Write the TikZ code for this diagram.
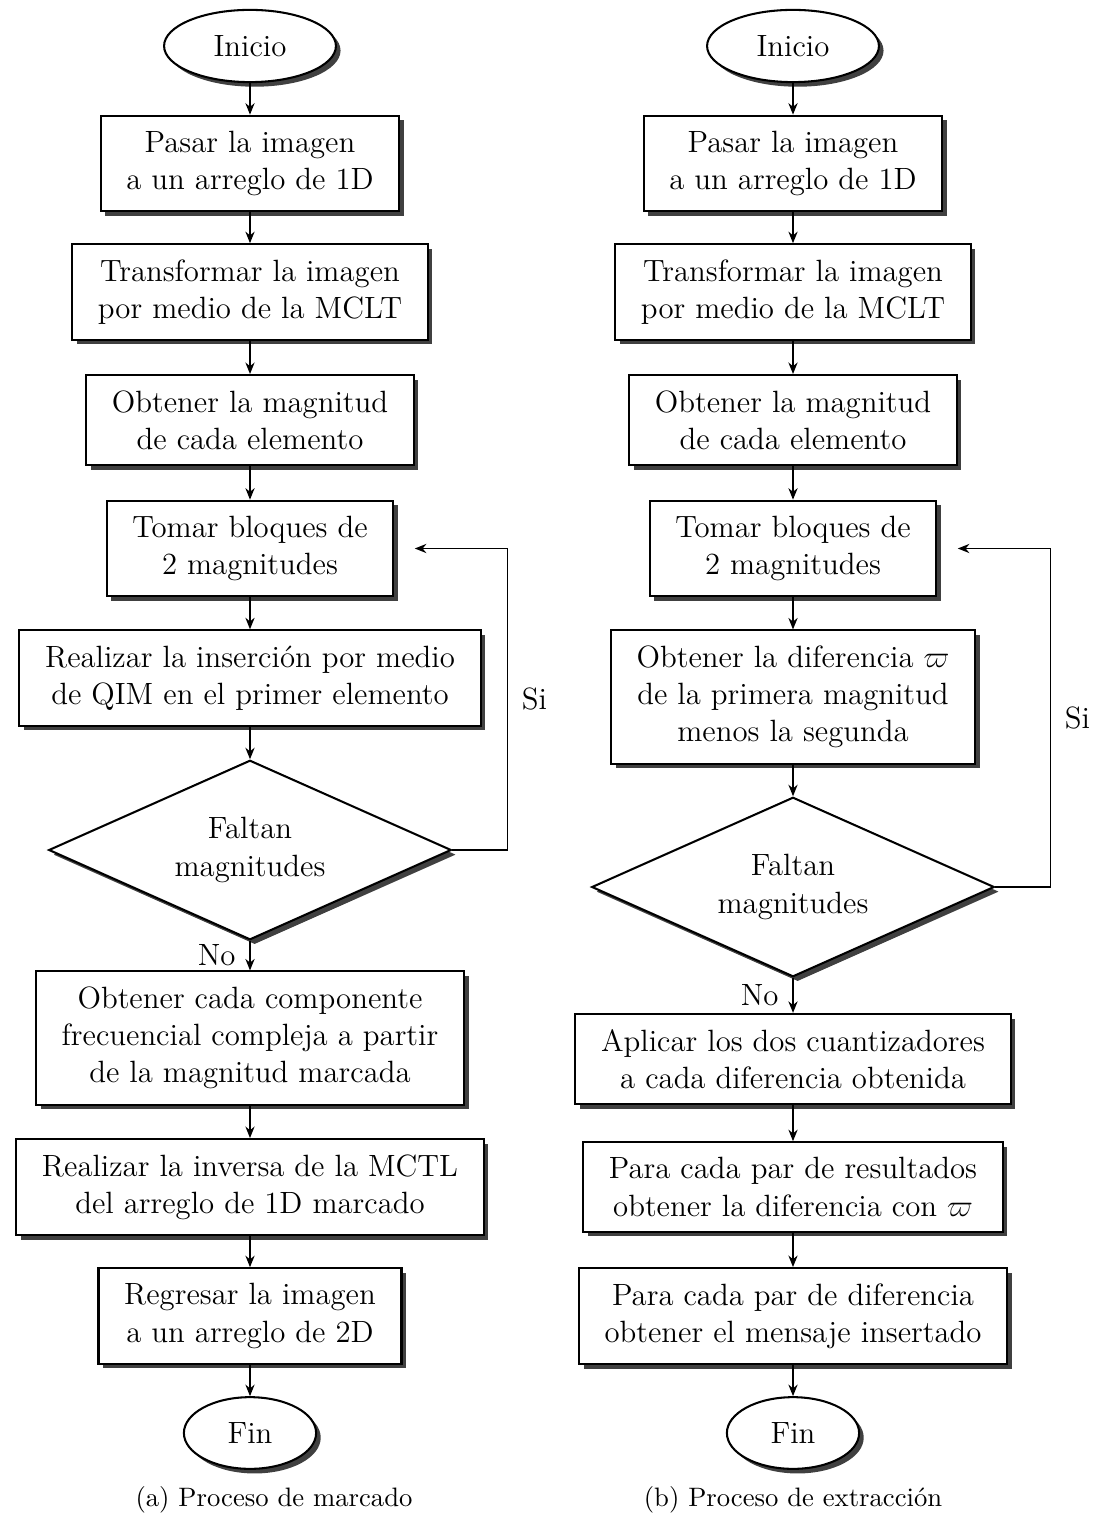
\documentclass[tikz,border=0pt]{standalone}
\usepackage{amsmath}
\usepackage{tikz}
\usetikzlibrary{arrows.meta}
\usetikzlibrary{shapes.geometric}
\usetikzlibrary{shadows}
\usetikzlibrary{positioning}
\tikzset{>={Stealth[length=4.5pt,width=3.6pt]}}
\tikzstyle{sombra} = [drop shadow={shadow xshift=1.8pt, shadow yshift=-1.8pt, fill=black!75, opacity=1}]
\tikzstyle{caja} = [rectangle, draw=black, thick, fill=white, sombra, align=center, inner xsep=10pt, inner ysep=6pt]
\tikzstyle{extremo} = [ellipse, draw=black, thick, fill=white, sombra, inner xsep=9.5pt, inner ysep=5.8pt]
\tikzstyle{decision} = [diamond, draw=black, thick, fill=white, sombra, align=center, aspect=2.2, inner sep=0pt, minimum width=157pt, minimum height=70pt]
\tikzstyle{flecha} = [->, semithick]

\begin{document}
\begin{tikzpicture}[x=0.39pt, y=-0.39pt, font=\fontsize{12}{14.5}\selectfont]
\useasboundingbox (0,0) rectangle (1098,1520);
% proceso de marcado
\node [extremo] (iniA) at (250, 46) {Inicio};
\node [caja] (pasarA) at (250, 163.5) {Pasar la imagen\\a un arreglo de 1D};
\node [caja] (transA) at (250, 292) {Transformar la imagen\\por medio de la MCLT};
\node [caja] (magA) at (250, 420) {Obtener la magnitud\\de cada elemento};
\node [caja] (tomarA) at (250, 548.5) {Tomar bloques de\\2 magnitudes};
\node [caja] (insA) at (250, 678) {Realizar la inserción por medio\\de QIM en el primer elemento};
\node [decision] (faltA) at (250, 850) {Faltan\\magnitudes};
\node [caja] (compA) at (250, 1038) {Obtener cada componente\\frecuencial compleja a partir\\de la magnitud marcada};
\node [caja] (invA) at (250, 1187) {Realizar la inversa de la MCTL\\del arreglo de 1D marcado};
\node [caja] (regA) at (250, 1316) {Regresar la imagen\\a un arreglo de 2D};
\node [extremo] (finA) at (250, 1433) {Fin};
\node [font=\fontsize{10.4}{12.5}\selectfont] (capA) at (274, 1500) {(a) Proceso de marcado};
\coordinate [right=8pt of tomarA] (vueltaA);
\draw [flecha] (iniA) -- (pasarA);
\draw [flecha] (pasarA) -- (transA);
\draw [flecha] (transA) -- (magA);
\draw [flecha] (magA) -- (tomarA);
\draw [flecha] (tomarA) -- (insA);
\draw [flecha] (insA) -- (faltA);
\draw [flecha] (faltA) -- node [left=2pt] {No} (compA);
\draw [flecha] (faltA.east) -- ++(21.5pt,0) |- node [pos=0.25, right=2pt] {Si} (vueltaA);
\draw [flecha] (compA) -- (invA);
\draw [flecha] (invA) -- (regA);
\draw [flecha] (regA) -- (finA);
% proceso de extraccion
\node [extremo] (iniB) at (793, 46) {Inicio};
\node [caja] (pasarB) at (793, 163.5) {Pasar la imagen\\a un arreglo de 1D};
\node [caja] (transB) at (793, 292) {Transformar la imagen\\por medio de la MCLT};
\node [caja] (magB) at (793, 420) {Obtener la magnitud\\de cada elemento};
\node [caja] (tomarB) at (793, 548.5) {Tomar bloques de\\2 magnitudes};
\node [caja] (difB) at (793, 697) {Obtener la diferencia $\varpi$\\de la primera magnitud\\menos la segunda};
\node [decision] (faltB) at (793, 887) {Faltan\\magnitudes};
\node [caja] (cuantB) at (793, 1059) {Aplicar los dos cuantizadores\\a cada diferencia obtenida};
\node [caja] (resB) at (793, 1187) {Para cada par de resultados\\obtener la diferencia con $\varpi$};
\node [caja] (menB) at (793, 1316) {Para cada par de diferencia\\obtener el mensaje insertado};
\node [extremo] (finB) at (793, 1433) {Fin};
\node [font=\fontsize{10.4}{12.5}\selectfont] (capB) at (793, 1500) {(b) Proceso de extracción};
\coordinate [right=8pt of tomarB] (vueltaB);
\draw [flecha] (iniB) -- (pasarB);
\draw [flecha] (pasarB) -- (transB);
\draw [flecha] (transB) -- (magB);
\draw [flecha] (magB) -- (tomarB);
\draw [flecha] (tomarB) -- (difB);
\draw [flecha] (difB) -- (faltB);
\draw [flecha] (faltB) -- node [left=2pt] {No} (cuantB);
\draw [flecha] (faltB.east) -- ++(21.5pt,0) |- node [pos=0.25, right=2pt] {Si} (vueltaB);
\draw [flecha] (cuantB) -- (resB);
\draw [flecha] (resB) -- (menB);
\draw [flecha] (menB) -- (finB);
\end{tikzpicture}
\end{document}
